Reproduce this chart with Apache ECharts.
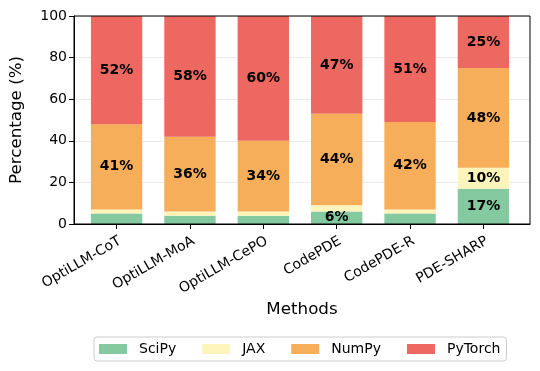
<!DOCTYPE html>
<html>
<head>
<meta charset="utf-8">
<script src="https://cdn.jsdelivr.net/npm/echarts@6/dist/echarts.min.js"></script>
<style>
  html, body { margin: 0; padding: 0; background: #fff; }
  #chart { width: 540px; height: 371px; }
</style>
</head>
<body>
<div id="chart"></div>
<script>
var methods = ["OptiLLM-CoT", "OptiLLM-MoA", "OptiLLM-CePO", "CodePDE", "CodePDE-R", "PDE-SHARP"];
var scipy = [5, 4, 4, 6, 5, 17];
var jax = [2, 2, 2, 3, 2, 10];
var numpy = [41, 36, 34, 44, 42, 48];
var pytorch = [52, 58, 60, 47, 51, 25];

var font = "DejaVu Sans";
var myChart = echarts.init(document.getElementById("chart"));

function makeSeries(name, arr, color) {
  return {
    name: name,
    type: "bar",
    stack: "total",
    xAxisIndex: 1,
    yAxisIndex: 1,
    barWidth: "70%",
    data: arr,
    itemStyle: { color: color },
    label: {
      show: true,
      position: "inside",
      color: "#000",
      fontFamily: font,
      fontWeight: "bold",
      fontSize: 14,
      // 只显示大于5%的标签
      formatter: function (p) {
        return p.value > 5 ? p.value + "%" : "";
      }
    }
  };
}

myChart.setOption({
  animation: false,
  grid: [
    // 外框 + y轴
    { left: 70, right: 10, top: 16, bottom: 147, show: true, borderColor: "#000", borderWidth: 1, z: 5 },
    // 柱子（matplotlib 两侧留白）
    { left: 79.9, right: 19.9, top: 16, bottom: 147 }
  ],
  legend: {
    left: 94,
    top: 337,
    itemWidth: 28,
    itemHeight: 10,
    itemGap: 26,
    padding: [5, 6, 5, 5],
    borderColor: "#cccccc",
    borderWidth: 1,
    borderRadius: 3,
    icon: "rect",
    textStyle: { color: "#000", fontFamily: font, fontSize: 14, padding: [0, 0, 0, 7] },
    data: ["SciPy", "JAX", "NumPy", "PyTorch"]
  },
  xAxis: [
    {
      gridIndex: 0,
      type: "value",
      min: 0,
      max: 1,
      name: "Methods",
      nameLocation: "middle",
      nameGap: 77,
      nameTextStyle: { color: "#000", fontFamily: font, fontSize: 16.7 },
      axisLine: { show: true, lineStyle: { color: "#000" } },
      axisTick: { show: false },
      axisLabel: { show: false },
      splitLine: { show: false }
    },
    {
      gridIndex: 1,
      type: "category",
      data: methods,
      axisLine: { show: false },
      axisTick: { show: true, alignWithLabel: true, length: 5, lineStyle: { color: "#000" } },
      axisLabel: {
        rotate: 30,
        margin: 10,
        align: "right",
        verticalAlign: "top",
        color: "#000",
        fontFamily: font,
        fontSize: 14
      },
      splitLine: { show: false }
    }
  ],
  yAxis: [
    {
      gridIndex: 0,
      type: "value",
      min: 0,
      max: 100,
      interval: 20,
      name: "Percentage (%)",
      nameLocation: "middle",
      nameGap: 49,
      nameTextStyle: { color: "#000", fontFamily: font, fontSize: 16.7 },
      axisLine: { show: true, lineStyle: { color: "#000" } },
      axisTick: { show: true, length: 5, lineStyle: { color: "#000" } },
      axisLabel: { color: "#000", fontFamily: font, fontSize: 14, margin: 7 },
      splitLine: { show: true, lineStyle: { color: "#ebebeb", width: 1 } }
    },
    {
      gridIndex: 1,
      type: "value",
      min: 0,
      max: 100,
      show: false,
      splitLine: { show: false }
    }
  ],
  series: [
    makeSeries("SciPy", scipy, "#84c9a0"),
    makeSeries("JAX", jax, "#fcf4ba"),
    makeSeries("NumPy", numpy, "#f6ae5a"),
    makeSeries("PyTorch", pytorch, "#ec6860")
  ]
});
</script>
</body>
</html>
